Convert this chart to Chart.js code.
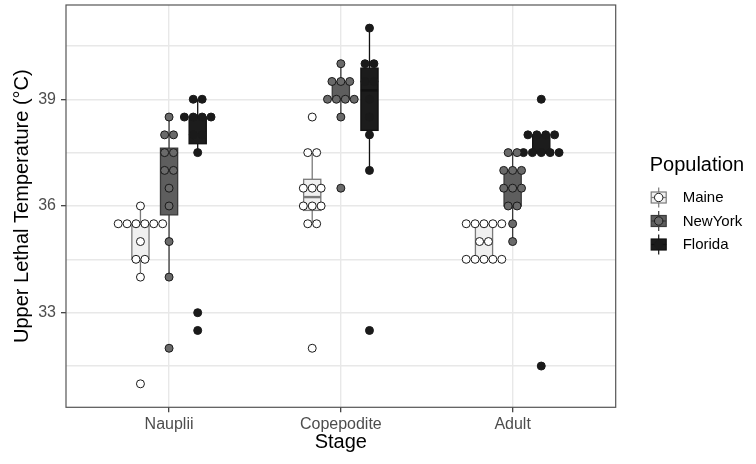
<!DOCTYPE html>
<html>
<head>
<meta charset="utf-8">
<script src="https://cdn.jsdelivr.net/npm/chart.js@4.4.1/dist/chart.umd.min.js"></script>
<style>
  html, body { margin: 0; padding: 0; background: #fff; }
  #wrap { width: 756px; height: 464px; }
</style>
</head>
<body>
<div id="wrap"><canvas id="chart"></canvas></div>
<script>
// categories
const stages = ['Nauplii', 'Copepodite', 'Adult'];
const populations = ['Maine', 'NewYork', 'Florida'];

// upper lethal temperature per individual, one list per stage (Nauplii, Copepodite, Adult)
const maineTemps = [
    [31, 34, 34.5, 34.5, 35, 35.5, 35.5, 35.5, 35.5, 35.5, 35.5, 36],
    [32, 35.5, 35.5, 36, 36, 36, 36.5, 36.5, 36.5, 37.5, 37.5, 38.5],
    [34.5, 34.5, 34.5, 34.5, 34.5, 35, 35, 35.5, 35.5, 35.5, 35.5, 35.5],
];
const newYorkTemps = [
    [32, 34, 35, 36, 36.5, 37, 37, 37.5, 37.5, 38, 38, 38.5],
    [36.5, 38.5, 39, 39, 39, 39, 39.5, 39.5, 39.5, 40],
    [35, 35.5, 36, 36, 36.5, 36.5, 36.5, 37, 37, 37, 37.5, 37.5],
];
const floridaTemps = [
    [32.5, 33, 37.5, 38, 38, 38.5, 38.5, 38.5, 38.5, 39, 39],
    [32.5, 37, 38, 38.5, 39, 39.5, 39.5, 40, 40, 41],
    [31.5, 37.5, 37.5, 37.5, 37.5, 37.5, 38, 38, 38, 38, 39],
];

// tick labels
const majorTicks = [33, 36, 39];
const minorTicks = [31.5, 34.5, 37.5, 40.5];

const temps = [maineTemps, newYorkTemps, floridaTemps];
const dotFill = ['#ffffff', '#6a6a6a', '#1a1a1a'];
const boxFill = ['#f0f0f0', '#5e5e5e', '#1c1c1c'];
const boxLine = ['#7a7a7a', '#3a3a3a', '#111111'];

const dodge = 1 / 6;      // group offset in category units
const boxHalf = 0.05;     // half box width
const dotStep = 0.0518;   // horizontal spacing of stacked dots

function stackDots(values, center) {
    const counts = new Map();
    values.forEach(v => counts.set(v, (counts.get(v) || 0) + 1));
    const pts = [];
    counts.forEach((k, v) => {
        for (let i = 0; i < k; i++) pts.push({ x: center + (i - (k - 1) / 2) * dotStep, y: v });
    });
    return pts;
}

function quantile(sorted, p) {
    const h = (sorted.length - 1) * p;
    const lo = Math.floor(h);
    const hi = Math.min(lo + 1, sorted.length - 1);
    return sorted[lo] + (h - lo) * (sorted[hi] - sorted[lo]);
}

function boxStats(values) {
    const s = [...values].sort((a, b) => a - b);
    const q1 = quantile(s, 0.25), med = quantile(s, 0.5), q3 = quantile(s, 0.75);
    const iqr = q3 - q1;
    const lo = Math.min(...s.filter(v => v >= q1 - 1.5 * iqr));
    const hi = Math.max(...s.filter(v => v <= q3 + 1.5 * iqr));
    return { q1, med, q3, lo, hi };
}

const datasets = populations.map((pop, j) => ({
    label: pop,
    data: stages.flatMap((st, i) => stackDots(temps[j][i], i + 1 + (j - 1) * dodge)),
    backgroundColor: dotFill[j],
    borderColor: '#1a1a1a',
    borderWidth: 1,
    pointRadius: 4,
    pointHoverRadius: 4,
}));

const boxPlugin = {
    id: 'boxes',
    beforeDatasetsDraw(chart) {
        const { ctx, scales: { x, y } } = chart;
        ctx.save();
        populations.forEach((pop, j) => {
            stages.forEach((st, i) => {
                const b = boxStats(temps[j][i]);
                const c = i + 1 + (j - 1) * dodge;
                const xc = x.getPixelForValue(c);
                const xl = x.getPixelForValue(c - boxHalf);
                const xr = x.getPixelForValue(c + boxHalf);
                ctx.strokeStyle = boxLine[j];
                ctx.lineWidth = 1.3;
                ctx.beginPath();
                ctx.moveTo(xc, y.getPixelForValue(b.hi));
                ctx.lineTo(xc, y.getPixelForValue(b.q3));
                ctx.moveTo(xc, y.getPixelForValue(b.q1));
                ctx.lineTo(xc, y.getPixelForValue(b.lo));
                ctx.stroke();
                const yt = y.getPixelForValue(b.q3), yb = y.getPixelForValue(b.q1);
                ctx.fillStyle = boxFill[j];
                ctx.fillRect(xl, yt, xr - xl, yb - yt);
                ctx.strokeRect(xl, yt, xr - xl, yb - yt);
                ctx.lineWidth = 2.4;
                ctx.beginPath();
                ctx.moveTo(xl, y.getPixelForValue(b.med));
                ctx.lineTo(xr, y.getPixelForValue(b.med));
                ctx.stroke();
            });
        });
        ctx.restore();
    },
    afterDraw(chart) {
        const { ctx, chartArea: a } = chart;
        ctx.save();
        // panel border
        ctx.strokeStyle = '#555555';
        ctx.lineWidth = 1.2;
        ctx.strokeRect(a.left, a.top, a.right - a.left, a.bottom - a.top);

        // legend
        const lx = a.right + 34;
        ctx.fillStyle = '#000';
        ctx.font = '20px "Liberation Sans", Arial, sans-serif';
        ctx.textAlign = 'left';
        ctx.textBaseline = 'middle';
        ctx.fillText('Population', lx, 165);
        populations.forEach((pop, j) => {
            const cy = 197.5 + j * 23.5;
            const cx = lx + 9;
            ctx.strokeStyle = boxLine[j];
            ctx.lineWidth = 1.2;
            ctx.beginPath();
            ctx.moveTo(cx, cy - 10);
            ctx.lineTo(cx, cy + 10);
            ctx.stroke();
            ctx.fillStyle = boxFill[j];
            ctx.fillRect(cx - 7.5, cy - 5.5, 15, 11);
            ctx.strokeRect(cx - 7.5, cy - 5.5, 15, 11);
            ctx.beginPath();
            ctx.moveTo(cx - 7.5, cy);
            ctx.lineTo(cx + 7.5, cy);
            ctx.stroke();
            ctx.beginPath();
            ctx.arc(cx, cy, 4.2, 0, Math.PI * 2);
            ctx.fillStyle = dotFill[j];
            ctx.fill();
            ctx.strokeStyle = '#1a1a1a';
            ctx.lineWidth = 1;
            ctx.stroke();
            ctx.fillStyle = '#000';
            ctx.font = '15px "Liberation Sans", Arial, sans-serif';
            ctx.fillText(pop, lx + 33, cy + 0.5);
        });
        ctx.restore();
    }
};

const ctx = document.getElementById('chart').getContext('2d');

const chart = new Chart(ctx, {
    type: 'scatter',
    data: { datasets },
    plugins: [boxPlugin],
    options: {
        responsive: true,
        maintainAspectRatio: false,
        animation: false,
        devicePixelRatio: 1,
        layout: { autoPadding: false, padding: { top: 5, right: 140.3, bottom: 0, left: 0 } },
        plugins: {
            legend: { display: false },
            tooltip: { enabled: false },
        },
        scales: {
            x: {
                type: 'linear',
                min: 0.4,
                max: 3.6,
                afterBuildTicks: s => { s.ticks = stages.map((st, i) => ({ value: i + 1 })); },
                afterFit: s => {
                    s.height = 56.7;
                    s.paddingLeft = 0; s.paddingRight = 0;
                },
                ticks: {
                    callback: v => stages[v - 1],
                    font: { family: '"Liberation Sans", Arial, sans-serif', size: 16 },
                    color: '#4d4d4d',
                    padding: 3,
                    autoSkip: false,
                    maxRotation: 0,
                },
                grid: { color: '#e8e8e8', lineWidth: 1.4, tickLength: 5, tickColor: '#333333', tickWidth: 1.2 },
                border: { display: false },
                title: {
                    display: true,
                    text: 'Stage',
                    color: '#000',
                    font: { family: '"Liberation Sans", Arial, sans-serif', size: 20 },
                    padding: { top: 0, bottom: 10 },
                },
            },
            y: {
                type: 'linear',
                min: 30.34,
                max: 41.65,
                afterBuildTicks: s => {
                    s.ticks = [...minorTicks, ...majorTicks].sort((a, b) => a - b).map(v => ({ value: v }));
                },
                afterFit: s => {
                    s.width = 66;
                    s.paddingTop = 0; s.paddingBottom = 0;
                },
                ticks: {
                    callback: v => (majorTicks.includes(v) ? String(v) : ''),
                    font: { family: '"Liberation Sans", Arial, sans-serif', size: 16 },
                    color: '#4d4d4d',
                    padding: 5,
                    autoSkip: false,
                },
                grid: {
                    color: '#e8e8e8',
                    lineWidth: 1.4,
                    tickLength: 5,
                    tickWidth: 1.2,
                    tickColor: c => (majorTicks.includes(c.tick && c.tick.value) ? '#333333' : 'rgba(0,0,0,0)'),
                },
                border: { display: false },
                title: {
                    display: true,
                    text: 'Upper Lethal Temperature (°C)',
                    color: '#000',
                    font: { family: '"Liberation Sans", Arial, sans-serif', size: 20 },
                    padding: { top: 10.5, bottom: 0 },
                },
            },
        },
    },
});
</script>
</body>
</html>
